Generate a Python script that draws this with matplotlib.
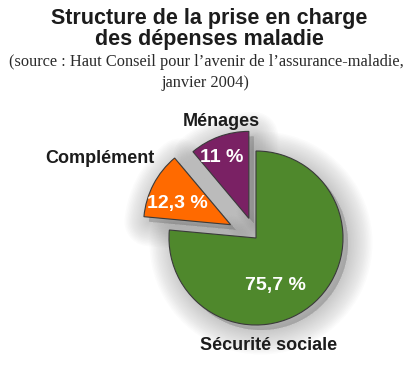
import matplotlib

matplotlib.use("Agg")
import matplotlib.pyplot as plt
from matplotlib.patches import Wedge

# Shares of health spending (percent), in drawing order (clockwise from 12 o'clock)
LABELS = ["Sécurité sociale", "Complément", "Ménages"]
SHARES = [75.7, 12.3, 11.0]
PCT_TEXT = ["75,7 %", "12,3 %", "11 %"]

TITLE = "Structure de la prise en charge\ndes dépenses maladie"
SOURCE = ["(source : Haut Conseil pour l’avenir de l’assurance-maladie,",
          "janvier 2004)"]

COLORS = ["#4f882c", "#ff6a00", "#7a2164"]
INK = "#1c1c1c"

W, H = 420, 366
fig = plt.figure(figsize=(W / 100, H / 100), dpi=100)
ax = fig.add_axes([0, 0, 1, 1])

CX, CY, R = 256, H - 238, 87
# pie's explode is in data units here (pixels), pulled-out slices
explode = [0, 0.33 * R, 0.24 * R]
wedges, _ = ax.pie(SHARES, colors=COLORS, explode=explode, startangle=90,
                   counterclock=False, center=(CX, CY), radius=R,
                   wedgeprops=dict(edgecolor="#3a3a3a", linewidth=0.8))

# soft drop shadow: stacked translucent copies, widened by thick edges
for w in wedges:
    (wx, wy) = w.center
    for i in range(1, 17):
        lw = i * 2.2
        sh = Wedge((wx + 5, wy - 5), w.r, w.theta1, w.theta2,
                   facecolor="#6a6a6a", edgecolor="#6a6a6a", linewidth=lw,
                   alpha=0.024, joinstyle="round", zorder=0)
        ax.add_patch(sh)
for w in wedges:
    w.set_zorder(2)

ax.set_xlim(0, W)
ax.set_ylim(0, H)
ax.set_aspect("equal")
ax.axis("off")

# titles
t1, t2 = TITLE.split("\n")
ax.text(209, H - 24, t1, ha="center", va="baseline", fontsize=15.5,
        fontweight="bold", family="Liberation Sans", color=INK)
ax.text(209, H - 45, t2, ha="center", va="baseline", fontsize=15.5,
        fontweight="bold", family="Liberation Sans", color=INK)
ax.text(206, H - 66, SOURCE[0], ha="center", va="baseline", fontsize=11.8,
        family="Liberation Serif", color="#2a2a2a")
ax.text(205, H - 87, SOURCE[1], ha="center", va="baseline", fontsize=11.8,
        family="Liberation Serif", color="#2a2a2a")

# category labels
label_pos = [(269, 350), (100, 163), (221, 126)]
for name, (x, y) in zip(LABELS, label_pos):
    ax.text(x, H - y, name, ha="center", va="baseline", fontsize=13,
            fontweight="bold", family="Liberation Sans", color=INK)

# percentage labels inside slices
pct_pos = [(275, 290), (177, 208), (222, 162)]
for txt, (x, y) in zip(PCT_TEXT, pct_pos):
    ax.text(x, H - y, txt, ha="center", va="baseline", fontsize=14,
            fontweight="bold", family="Liberation Sans", color="white",
            zorder=5)

fig.savefig("out.png", dpi=100)
